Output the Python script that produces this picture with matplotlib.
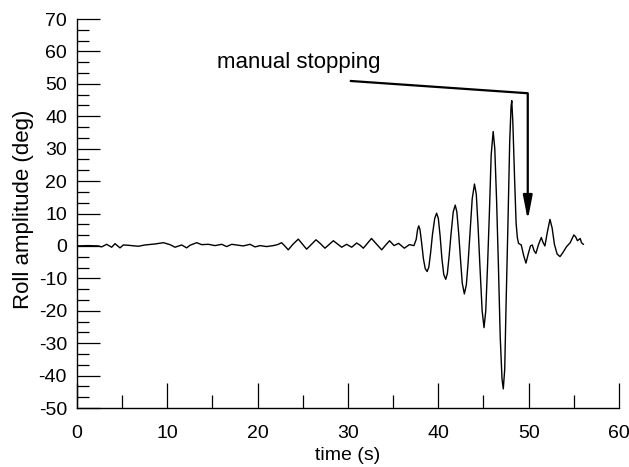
import matplotlib
matplotlib.use("Agg")
import matplotlib.pyplot as plt
from matplotlib.ticker import MultipleLocator
from matplotlib.patches import ArrowStyle

plt.rcParams['font.family'] = ['Liberation Sans', 'DejaVu Sans']
plt.rcParams['axes.unicode_minus'] = False

# ---- data ----
time_s = [0.0, 1.25, 2.36, 2.73, 3.28, 3.84, 4.21, 4.76, 5.13, 5.68, 6.79, 7.53,
          8.64, 9.56, 10.3, 10.85, 11.59, 12.14, 12.51, 13.25, 13.8, 14.54, 15.28,
          16.02, 16.57, 17.13, 17.67, 18.41, 19.15, 19.71, 20.26, 21.0, 21.73,
          22.2, 22.65, 23.0, 23.39, 23.9, 24.5, 24.95, 25.42, 25.95, 26.46, 26.95,
          27.45, 27.9, 28.38, 28.85, 29.3, 29.85, 30.41, 30.96, 31.35, 31.7,
          32.15, 32.6, 33.15, 33.73, 34.15, 34.6, 35.1, 35.6, 36.24, 36.79, 37.1,
          37.3, 37.55, 37.7, 37.83, 37.97, 38.15, 38.35, 38.55, 38.76, 38.95,
          39.15, 39.35, 39.6, 39.81, 40.0, 40.2, 40.4, 40.6, 40.82, 41.0, 41.2,
          41.4, 41.65, 41.87, 42.05, 42.25, 42.45, 42.65, 42.88, 43.1, 43.3, 43.5,
          43.75, 44.0, 44.2, 44.4, 44.6, 44.85, 45.06, 45.25, 45.45, 45.65, 45.85,
          46.07, 46.25, 46.45, 46.65, 46.85, 47.05, 47.19, 47.35, 47.5, 47.7, 47.9,
          48.05, 48.13, 48.25, 48.45, 48.61, 48.75, 48.88, 49.05, 49.18, 49.45,
          49.7, 49.95, 50.2, 50.4, 50.6, 50.8, 51.1, 51.4, 51.6, 51.8, 52.05,
          52.36, 52.6, 52.85, 53.15, 53.47, 53.8, 54.2, 54.6, 55.0, 55.2, 55.4,
          55.7, 55.85, 56.05]
roll_deg = [0.0, 0.1, 0.0, -0.3, 0.5, -0.4, 0.7, -0.6, 0.3, 0.2, -0.1, 0.3,
            0.6, 1.0, 0.4, -0.4, 0.3, -0.6, 0.2, 1.0, 0.4, 0.5, 0.1,
            0.5, -0.2, 0.5, 0.3, 0.0, 0.5, -0.3, 0.1, -0.2, 0.1,
            0.4, 1.0, 0.0, -1.2, 0.5, 2.1, 0.6, -1.0, 0.5, 1.9, 0.7,
            -0.7, 0.4, 1.6, 0.6, -0.4, 0.5, -0.4, 0.9, 0.2, -0.7,
            0.8, 2.3, 0.6, -1.2, 0.2, 1.6, 0.1, 0.8, -0.7, 0.4, 0.2,
            0.1, 2.0, 5.0, 6.2, 5.0, 1.0, -4.0, -7.0, -7.9, -6.5,
            -2.0, 3.5, 8.5, 10.1, 8.5, 3.0, -4.0, -8.8, -10.3, -8.5, -3.0,
            3.5, 10.5, 12.6, 10.5, 4.0, -4.0, -11.5, -14.8, -12.0, -5.0, 3.5,
            14.5, 19.1, 16.0, 6.0, -6.0, -20.0, -25.2, -20.0, -6.0, 10.0, 28.0,
            35.3, 30.0, 14.0, -6.0, -28.0, -41.0, -44.1, -38.0, -18.0, 6.0, 32.0,
            43.0, 44.8, 38.0, 20.0, 7.0, 2.5, 0.8, 0.5, 0.3, -3.0,
            -5.3, -2.5, 0.0, 0.3, -1.5, -2.3, 0.5, 2.6, 1.0, 0.0, 4.0,
            8.2, 5.5, 0.5, -2.5, -3.3, -2.0, -0.2, 1.0, 3.4, 2.8, 1.6,
            2.3, 1.0, 0.5]

x_ticks = [0, 10, 20, 30, 40, 50, 60]
y_ticks = [-50, -40, -30, -20, -10, 0, 10, 20, 30, 40, 50, 60, 70]
x_label = "time (s)"
y_label = "Roll amplitude (deg)"
note_text = "manual stopping"
note_text_pos = (15.5, 54.8)
note_line_start = (30.2, 50.9)
note_corner = (49.9, 47.1)
note_tip = (49.9, 8.0)

# ---- figure ----
fig = plt.figure(figsize=(6.29, 4.67), dpi=100)
ax = fig.add_axes([0.1224, 0.1263, 0.8617, 0.833])

ax.plot(time_s, roll_deg, color='black', lw=1.0)

ax.set_xlim(0, 60)
ax.set_ylim(-50, 70)
ax.set_xticks(x_ticks)
ax.set_yticks(y_ticks)
ax.xaxis.set_minor_locator(MultipleLocator(5))
ax.yaxis.set_minor_locator(MultipleLocator(10 / 3))

for s in ('top', 'right'):
    ax.spines[s].set_visible(False)
for s in ('left', 'bottom'):
    ax.spines[s].set_linewidth(1.0)
    ax.spines[s].set_color('black')

ax.tick_params(axis='y', which='major', direction='in', length=16.3, width=0.9,
               pad=7.2, labelsize=14, colors='black')
ax.tick_params(axis='y', which='minor', direction='in', length=8.4, width=0.9)
ax.tick_params(axis='x', which='major', direction='in', length=18, width=0.9,
               pad=12, labelsize=14, colors='black')
ax.tick_params(axis='x', which='minor', direction='in', length=9.2, width=0.9)

ax.set_xlabel(x_label, fontsize=14)
ax.xaxis.label.set_va('center')
ax.xaxis.set_label_coords(0.5, -0.122)
ax.set_ylabel(y_label, fontsize=16)
ax.yaxis.label.set_va('center')
ax.yaxis.set_label_coords(-0.0987, 0.5116)

# annotation
ax.text(note_text_pos[0], note_text_pos[1], note_text, fontsize=16,
        ha='left', va='baseline')
ax.plot([note_line_start[0], note_corner[0]], [note_line_start[1], note_corner[1]],
        color='black', lw=1.6, solid_capstyle='butt')
ax.annotate('', xy=note_tip, xytext=note_corner,
            arrowprops=dict(arrowstyle=ArrowStyle('-|>', head_length=1.45, head_width=0.28),
                            mutation_scale=10, color='black', lw=1.6,
                            shrinkA=0, shrinkB=0))

fig.savefig('out.png', dpi=100)
